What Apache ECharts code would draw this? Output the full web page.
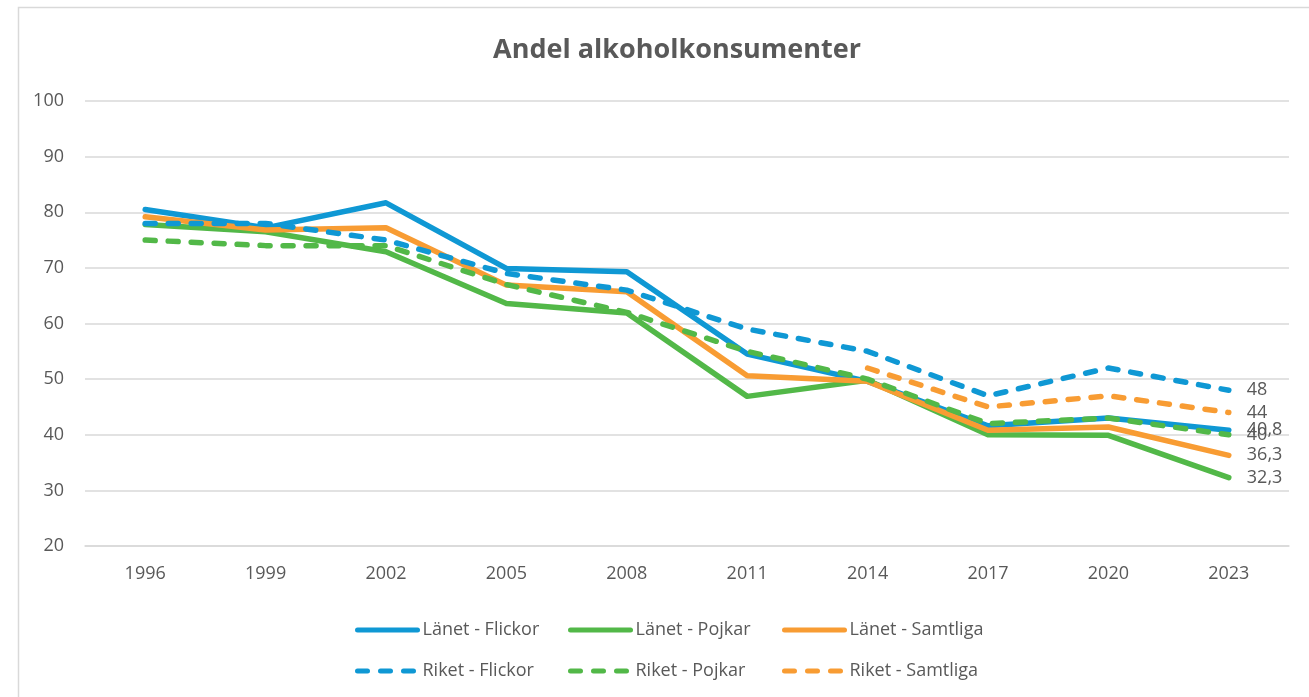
<!DOCTYPE html>
<html>
<head>
<meta charset="utf-8">
<title>Andel alkoholkonsumenter</title>
<script src="https://cdn.jsdelivr.net/npm/echarts@6/dist/echarts.min.js"></script>
<style>
    html, body { margin: 0; padding: 0; background: #fff; }
    #mainChart { width: 1309px; height: 697px; }
</style>
</head>
<body>
<div id="mainChart"></div>
<script>
// years on x axis
var years = ["1996", "1999", "2002", "2005", "2008", "2011", "2014", "2017", "2020", "2023"];
var yTicks = [20, 30, 40, 50, 60, 70, 80, 90, 100];

// (percent)
var lanetFlickor   = [80.5, 77.2, 81.7, 69.9, 69.3, 54.5, 49.6, 41.6, 43.0, 40.8];
var lanetPojkar    = [77.8, 76.5, 72.9, 63.6, 61.9, 46.9, 49.8, 40.0, 39.9, 32.3];
var lanetSamtliga  = [79.2, 76.8, 77.2, 66.9, 65.7, 50.6, 49.6, 40.8, 41.4, 36.3];
var riketFlickor   = [78, 78, 75, 69, 66, 59, 55, 47, 52, 48];
var riketPojkar    = [75, 74, 74, 67, 62, 55, 50, 42, 43, 40];
var riketSamtliga  = [null, null, null, null, null, null, 52, 45, 47, 44];

var names = ["Länet - Flickor", "Länet - Pojkar", "Länet - Samtliga",
             "Riket - Flickor", "Riket - Pojkar", "Riket - Samtliga"];

var blue = "#0f98d4", green = "#52b848", orange = "#f89c33";
var txt = "#595959";

function mkSeries(name, data, color, dashed) {
    return {
        name: name,
        type: "line",
        data: data,
        symbol: "none",
        connectNulls: false,
        lineStyle: {
            color: color,
            width: 5.5,
            type: dashed ? [10, 13] : "solid",
            cap: "round",
            join: "round"
        },
        itemStyle: { color: color },
        endLabel: {
            show: true,
            distance: 18,
            color: txt,
            fontSize: 18,
            fontFamily: "Open Sans",
            formatter: function (p) { return String(p.value).replace(".", ","); }
        },
        emphasis: { disabled: true }
    };
}

// one legend per entry so each sits where it does in the original
var legendLeft = [355, 568, 782];
var legendTop = [621, 662];
function mkLegend(i) {
    return {
        data: [names[i]],
        left: legendLeft[i % 3],
        top: legendTop[Math.floor(i / 3)],
        padding: 0,
        itemWidth: 60,
        itemHeight: 14,
        itemStyle: { opacity: 0 },
        lineStyle: { width: 5, cap: "round" },
        textStyle: { color: txt, fontSize: 18, fontFamily: "Open Sans" }
    };
}

var n = echarts.init(document.getElementById("mainChart"));
n.setOption({
    backgroundColor: "#fff",
    animation: false,
    graphic: [{
        type: "rect",
        shape: { x: 18.5, y: 7.5, width: 1400, height: 800 },
        style: { fill: "none", stroke: "#d9d9d9", lineWidth: 1.5 },
        silent: true
    }],
    title: {
        text: "Andel alkoholkonsumenter",
        left: 672,
        textAlign: "center",
        top: 32,
        textStyle: {
            color: txt,
            fontSize: 27,
            fontWeight: "bold",
            fontFamily: "Open Sans"
        }
    },
    legend: [0, 1, 2, 3, 4, 5].map(mkLegend),
    grid: { left: 85, right: 20, top: 101, bottom: 151, containLabel: false },
    xAxis: {
        type: "category",
        data: years,
        boundaryGap: true,
        axisLine: { lineStyle: { color: "#d9d9d9", width: 1.5 } },
        axisTick: { show: false },
        axisLabel: { color: txt, fontSize: 18, fontFamily: "Open Sans", margin: 19 }
    },
    yAxis: {
        type: "value",
        min: yTicks[0],
        max: yTicks[yTicks.length - 1],
        interval: 10,
        axisLine: { show: false },
        axisTick: { show: false },
        splitLine: { lineStyle: { color: "#d9d9d9", width: 1.5 } },
        axisLabel: { color: txt, fontSize: 18, fontFamily: "Open Sans", margin: 21 }
    },
    series: [
        mkSeries(names[0], lanetFlickor, blue, false),
        mkSeries(names[1], lanetPojkar, green, false),
        mkSeries(names[2], lanetSamtliga, orange, false),
        mkSeries(names[3], riketFlickor, blue, true),
        mkSeries(names[4], riketPojkar, green, true),
        mkSeries(names[5], riketSamtliga, orange, true)
    ]
});
</script>
</body>
</html>
